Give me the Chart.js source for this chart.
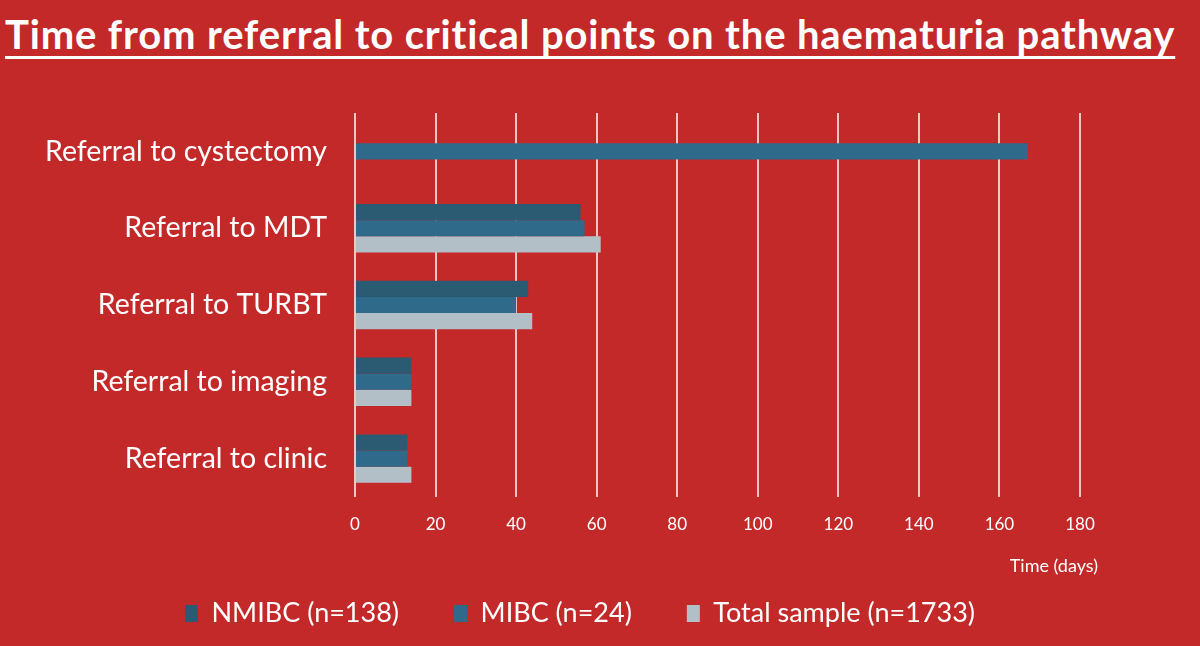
<!DOCTYPE html>
<html>
<head>
<meta charset="utf-8">
<script src="https://cdn.jsdelivr.net/npm/chart.js@4"></script>
<style>
html,body{margin:0;padding:0;background:#C4292A;width:1200px;height:646px;overflow:hidden;}
#title{position:absolute;left:5px;top:10px;font-family:Lato,sans-serif;font-weight:700;font-size:40px;letter-spacing:0.85px;color:#fff;text-decoration:underline;text-decoration-thickness:3px;text-underline-offset:7px;white-space:nowrap;}
#wrap{position:absolute;left:0;top:0;width:1200px;height:646px;}
</style>
</head>
<body>
<div id="title">Time from referral to critical points on the haematuria pathway</div>
<div id="wrap"><canvas id="c" width="1200" height="646"></canvas></div>
<script>
const categories = ["Referral to cystectomy","Referral to MDT","Referral to TURBT","Referral to imaging","Referral to clinic"];
const seriesNames = ["NMIBC (n=138)","MIBC (n=24)","Total sample (n=1733)"];
const nmibc = [null,56,43,14,13];
const mibc = [167,57,40,14,13];
const total = [null,61,44,14,14];
const xTicks = [0,20,40,60,80,100,120,140,160,180];
const xTitle = "Time (days)";

const colors = ["#2B5A73","#2F6A8B","#B3BFC7"];
const white = "#FFFFFF";

const axisTitlePlugin = {
  id: 'axisTitle',
  afterLayout(chart) {
    if (chart.legend) { chart.legend.left += 40; chart.legend.right += 40; }
  },
  afterDraw(chart) {
    const ctx = chart.ctx;
    ctx.save();
    ctx.fillStyle = white;
    ctx.font = "18px Lato";
    ctx.textAlign = 'right';
    ctx.textBaseline = 'middle';
    ctx.fillText(xTitle, chart.chartArea.right + 18, 566);
    ctx.restore();
  }
};

new Chart(document.getElementById('c'), {
  type: 'bar',
  data: {
    labels: categories,
    datasets: [
      {label: seriesNames[0], data: nmibc, backgroundColor: colors[0]},
      {label: seriesNames[1], data: mibc, backgroundColor: colors[1]},
      {label: seriesNames[2], data: total, backgroundColor: colors[2]}
    ]
  },
  plugins: [axisTitlePlugin],
  options: {
    indexAxis: 'y',
    responsive: false,
    animation: false,
    devicePixelRatio: 1,
    layout: {padding: {top: 113, right: 120, bottom: 9, left: 0}},
    datasets: {bar: {barPercentage: 1.0, categoryPercentage: 0.63}},
    scales: {
      x: {
        min: 0, max: 180,
        afterBuildTicks: s => { s.ticks = xTicks.map(v => ({value: v})); },
        afterFit: s => { s.height = 48; },
        grid: {color: "#EEC6C6", lineWidth: 2, drawTicks: false},
        border: {display: false},
        ticks: {color: white, font: {family: "Lato", size: 17}, padding: 17}
      },
      y: {
        grid: {display: false},
        border: {display: false},
        afterFit: s => { s.width = 355; },
        ticks: {color: white, font: {family: "Lato", size: 28.5}, padding: 20}
      }
    },
    plugins: {
      legend: {
        position: 'bottom',
        labels: {color: white, font: {family: "Lato", size: 27}, boxWidth: 13, boxHeight: 17, padding: 55}
      },
      tooltip: {enabled: false}
    }
  }
});
</script>
</body>
</html>
